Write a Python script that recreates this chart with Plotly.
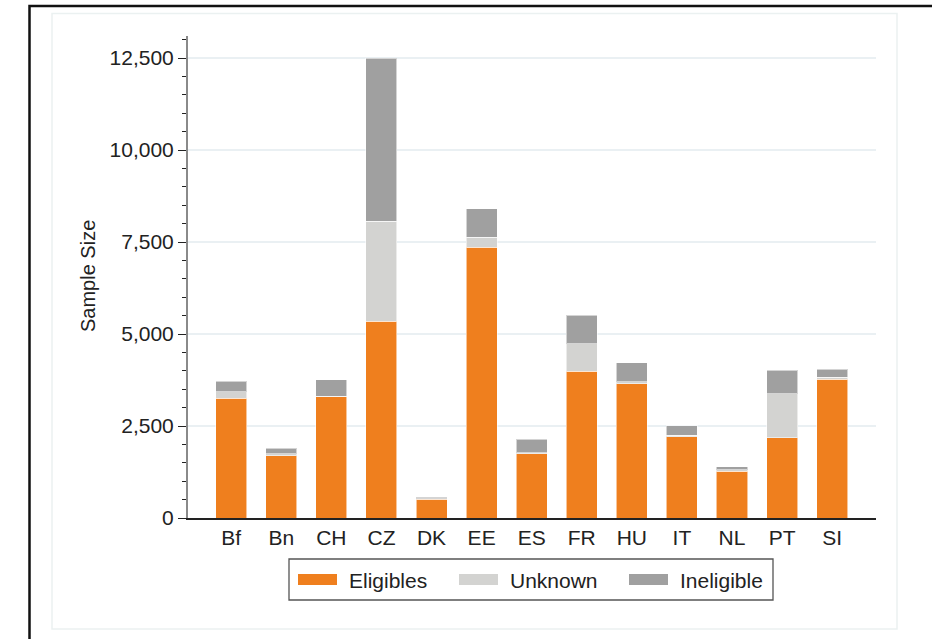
import plotly.graph_objects as go

countries = ["Bf", "Bn", "CH", "CZ", "DK", "EE", "ES", "FR", "HU", "IT", "NL", "PT", "SI"]
eligibles = [3260, 1690, 3290, 5350, 510, 7360, 1750, 3990, 3650, 2210, 1275, 2180, 3775]
unknown = [170, 50, 20, 2710, 10, 270, 20, 740, 55, 45, 30, 1200, 45]
ineligible = [290, 160, 450, 4440, 50, 770, 370, 780, 510, 255, 90, 640, 225]

series_names = ["Eligibles", "Unknown", "Ineligible"]
series_colors = ["#EF7F1E", "#D3D3D1", "#A0A0A0"]
y_ticks = [0, 2500, 5000, 7500, 10000, 12500]

FONT = "Liberation Sans, Arial, Helvetica, sans-serif"
W, H = 932, 639
L, R, T, B = 188, 876, 36, 518     # plot area in pixels


def px(x):
    return (x - L) / (R - L)


def py(y):
    return (B - y) / (B - T)


fig = go.Figure()
for name, vals, col in zip(series_names, [eligibles, unknown, ineligible], series_colors):
    fig.add_trace(go.Bar(
        x=countries, y=vals, name=name, marker_color=col,
        marker_line=dict(color="rgba(255,255,255,0.55)", width=1),
        showlegend=False,
    ))

# frames around the figure
shapes = [
    dict(type="rect", xref="paper", yref="paper",
         x0=px(29.5), x1=px(1100), y0=py(800), y1=py(6),
         line=dict(color="#111", width=2.5)),
    dict(type="rect", xref="paper", yref="paper",
         x0=px(52), x1=px(897), y0=py(629), y1=py(13.5),
         line=dict(color="#EBF1F1", width=1.5)),
    # legend box
    dict(type="rect", xref="paper", yref="paper",
         x0=px(289), x1=px(773), y0=py(600), y1=py(559),
         line=dict(color="#555", width=1.3), fillcolor="white"),
]
annotations = [
    dict(text="Sample Size", textangle=-90, xref="paper", yref="paper",
         x=px(88), y=py(276), xanchor="center", yanchor="middle",
         showarrow=False, font=dict(size=20, color="#222", family=FONT)),
]

# custom legend with wide swatches
sw_x = [298, 459, 629]
for name, col, x0 in zip(series_names, series_colors, sw_x):
    shapes.append(dict(type="rect", xref="paper", yref="paper",
                       x0=px(x0), x1=px(x0 + 39), y0=py(585), y1=py(574),
                       line=dict(width=0), fillcolor=col))
    annotations.append(dict(text=name, xref="paper", yref="paper",
                            x=px(x0 + 49), y=py(580), xanchor="left",
                            yanchor="middle", showarrow=False,
                            font=dict(size=21, color="#222", family=FONT)))

fig.update_layout(
    barmode="stack",
    bargap=0.38,
    width=W, height=H,
    margin=dict(l=L, r=W - R, t=T, b=H - B, pad=0),
    paper_bgcolor="white", plot_bgcolor="white",
    font=dict(family=FONT, size=21, color="#222"),
    shapes=shapes,
    annotations=annotations,
)
fig.update_xaxes(
    range=[-0.863, 12.875],
    showline=True, linecolor="#222", linewidth=1.5,
    ticks="", showgrid=False, zeroline=False,
    tickfont=dict(size=21, color="#222"),
)
fig.update_yaxes(
    range=[0, 13100],
    tickvals=y_ticks, tickformat=",",
    showline=True, linecolor="#8A8A8A", linewidth=2,
    ticks="outside", ticklen=8, tickwidth=1, tickcolor="#222",
    minor=dict(dtick=500, ticks="outside", ticklen=4, tickwidth=1,
               tickcolor="#222", showgrid=False),
    showgrid=True, gridcolor="#EAF0F3", gridwidth=1.5,
    zeroline=False,
    tickfont=dict(size=21, color="#222"),
)

# drop the default 8px body margin so the figure sits at the page origin
fig.write_html("out.html", config={"displayModeBar": False},
               post_script="document.body.style.margin = '0px';")
